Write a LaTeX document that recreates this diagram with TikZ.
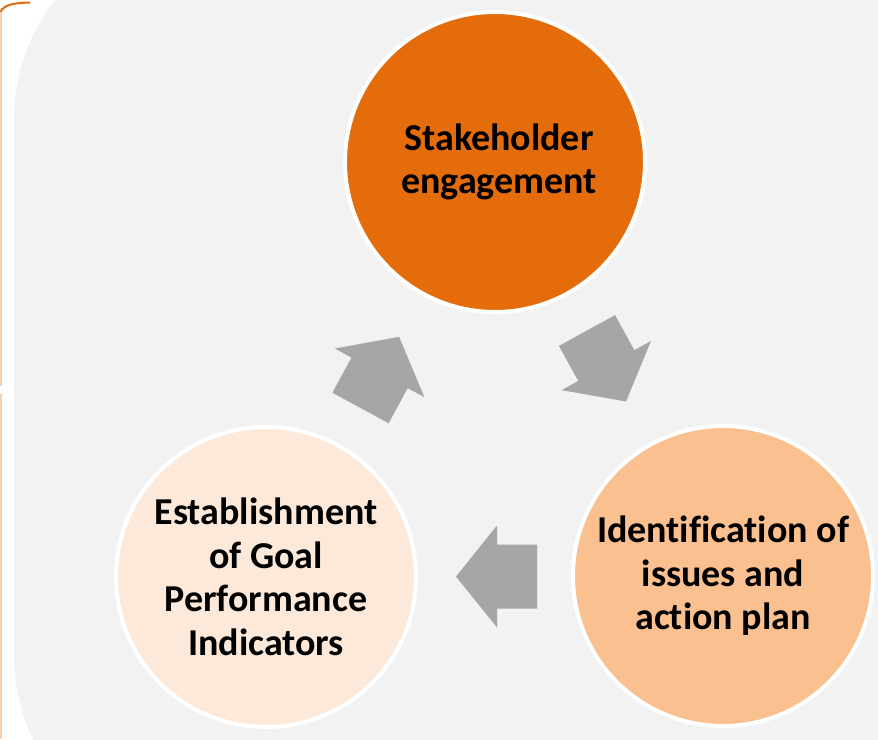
\documentclass[tikz,border=0pt]{standalone}
\usepackage{fontspec}
\setmainfont{Carlito}[Ligatures=NoCommon]
\definecolor{bgray}{HTML}{F2F2F2}
\definecolor{agray}{HTML}{A6A6A6}
\definecolor{corange}{HTML}{E46C0A}
\definecolor{clight}{HTML}{FAC090}
\definecolor{cpale}{HTML}{FDE9D9}
\definecolor{bracketpale}{HTML}{F9CFAE}
\tikzset{
  cyc/.style={circle, minimum size=300pt, inner sep=0pt, draw=white, line width=4pt,
    align=center, text=black, font=\fontsize{38}{43.5}\selectfont\bfseries},
  blockarrow/.pic={
    \fill[agray] (0pt,-32pt) -- (40pt,-32pt) -- (40pt,-51pt) -- (81pt,0pt)
      -- (40pt,51pt) -- (40pt,32pt) -- (0pt,32pt) -- cycle;
  }
}
\begin{document}
\begin{tikzpicture}[x=1pt,y=-1pt]
\useasboundingbox (0,0) rectangle (878,739);
\fill[white] (0,0) rectangle (878,739);
\begin{scope}
\clip (0,0) rectangle (878,739);
\fill[bgray, rounded corners=196pt] (14,-76) rectangle (1100,851);
\end{scope}
% bracket at left edge
\draw[corange, line width=2pt] (0.5,12) .. controls (4,5) and (12,3) .. (30,2.5);
\draw[bracketpale, line width=1.5pt] (0.75,12) -- (0.75,386);
\draw[bracketpale, line width=1.5pt] (0.75,394) -- (0.75,739);
% circles
\node[cyc, fill=corange] (top) at (495,162) {\hspace*{8pt}Stakeholder\\\hspace*{8pt}engagement};
\node[cyc, fill=clight] (right) at (723,576) {Identification of\\issues and\\action plan};
\node[cyc, fill=cpale] (left) at (266,577) {Establishment\\of Goal\\Performance\\Indicators};
% block arrows
\pic[rotate=61.5] at (360.5,408) {blockarrow};
\pic[rotate=-61.2] at (587,330.5) {blockarrow};
\pic[rotate=180] at (537,576.5) {blockarrow};
\end{tikzpicture}
\end{document}
